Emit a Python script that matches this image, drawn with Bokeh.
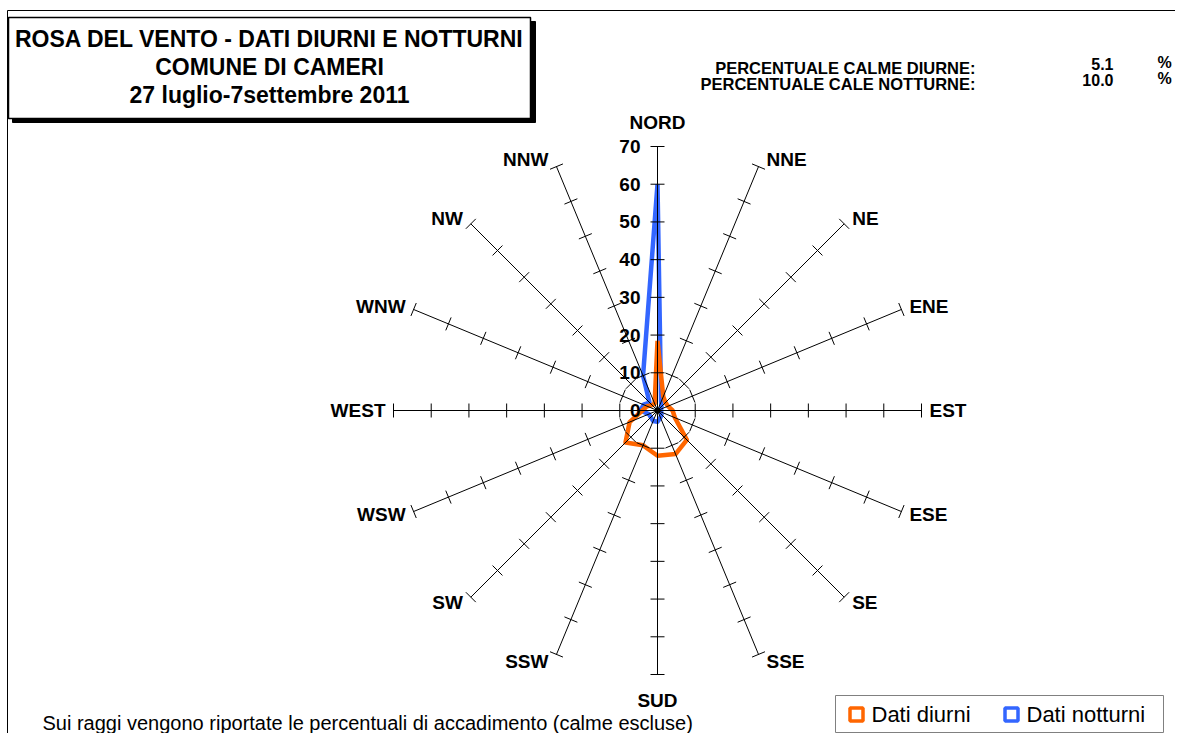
import numpy as np
from bokeh.plotting import figure
from bokeh.models import Range1d
from bokeh.embed import file_html
from bokeh.resources import INLINE
from bokeh.core.properties import value

# ---------------- data ----------------
directions = ["NORD", "NNE", "NE", "ENE", "EST", "ESE", "SE", "SSE",
              "SUD", "SSW", "SW", "WSW", "WEST", "WNW", "NW", "NNW"]
dati_diurni = [18.5, 4, 3, 3, 4, 5, 11, 12.5, 12, 10, 12, 8, 4, 3, 2, 2]
dati_notturni = [60, 2.5, 1.5, 1, 1, 1, 1.5, 2, 3, 3, 2.5, 2.5, 4.5, 4, 3, 10]
radial_ticks = [0, 10, 20, 30, 40, 50, 60, 70]
series_names = ["Dati diurni", "Dati notturni"]
series_colors = ["#FF6600", "#3366FF"]
title_lines = ["ROSA DEL VENTO - DATI DIURNI E NOTTURNI",
               "COMUNE DI CAMERI",
               "27 luglio-7settembre 2011"]
calme_labels = ["PERCENTUALE CALME DIURNE:", "PERCENTUALE CALE NOTTURNE:"]
calme_values = ["5.1", "10.0"]
footnote = "Sui raggi vengono riportate le percentuali di accadimento (calme escluse)"

# ---------------- geometry ----------------
W, H = 1175, 733
K = 264 / 70.0          # pixels per percent unit
CX, CY = 657, 410       # radar centre in picture pixels
RMAX = 70

def X(sx):
    return (sx - CX) / K

def Y(sy):
    return (CY - sy) / K

FONT = value("Liberation Sans")

p = figure(width=W, height=H, output_backend="svg", toolbar_location=None,
           x_range=Range1d(X(0), X(W)), y_range=Range1d(Y(H), Y(0)),
           min_border=0)
p.axis.visible = False
p.grid.visible = False
p.outline_line_color = None
p.background_fill_color = "white"
p.border_fill_color = "white"

# outer chart frame (only top and left edges visible)
p.quad(left=[X(7)], right=[X(1300)], top=[Y(10)], bottom=[Y(900)],
       fill_color=None, line_color="black", line_width=1)

# title box with shadow
p.quad(left=[X(12)], right=[X(535)], top=[Y(21)], bottom=[Y(122)],
       fill_color="black", line_color="black")
p.quad(left=[X(8)], right=[X(530)], top=[Y(17)], bottom=[Y(118)],
       fill_color="white", line_color="black", line_width=1.5)
for i, t in enumerate(title_lines):
    p.text(x=[X(269)], y=[Y(38 + 28 * i)], text=[t], text_font=FONT,
           text_font_style="bold", text_font_size="23px",
           text_align="center", text_baseline="middle", text_color="black")

# calme percentages
for i, (lab, val) in enumerate(zip(calme_labels, calme_values)):
    ly = 67 + 16 * i
    p.text(x=[X(975)], y=[Y(ly)], text=[lab], text_font=FONT,
           text_font_style="bold", text_font_size="16.5px",
           text_align="right", text_baseline="middle")
    p.text(x=[X(1113)], y=[Y(ly - 4)], text=[val], text_font=FONT,
           text_font_style="bold", text_font_size="16px",
           text_align="right", text_baseline="middle")
    p.text(x=[X(1157)], y=[Y(ly - 5)], text=["%"], text_font=FONT,
           text_font_style="bold", text_font_size="16px",
           text_align="left", text_baseline="middle")

# ---------------- radar series ----------------
ang = np.deg2rad(np.arange(len(directions)) * 22.5)
sin_a, cos_a = np.sin(ang), np.cos(ang)

for vals, col in zip([dati_notturni, dati_diurni], [series_colors[1], series_colors[0]]):
    v = np.array(vals, dtype=float)
    xs = np.append(v * sin_a, v[0] * sin_a[0])
    ys = np.append(v * cos_a, v[0] * cos_a[0])
    p.line(xs, ys, line_color=col, line_width=4.5, line_join="round")

# spokes
p.segment(x0=np.zeros(len(ang)), y0=np.zeros(len(ang)),
          x1=RMAX * sin_a, y1=RMAX * cos_a, line_color="black", line_width=1)
# ticks
half = 7 / K
tx0, ty0, tx1, ty1 = [], [], [], []
for t in radial_ticks[1:]:
    for s, c in zip(sin_a, cos_a):
        px, py = t * s, t * c
        tx0.append(px - half * c)
        ty0.append(py + half * s)
        tx1.append(px + half * c)
        ty1.append(py - half * s)
p.segment(x0=tx0, y0=ty0, x1=tx1, y1=ty1, line_color="black", line_width=1)
p.scatter(x=[0], y=[0], size=5, color="black")

# radial value labels on the north spoke
p.text(x=[X(640)] * len(radial_ticks), y=radial_ticks,
       text=[str(t) for t in radial_ticks], text_font=FONT,
       text_font_style="bold", text_font_size="19px",
       text_align="right", text_baseline="middle")

# direction labels
for name, s, c in zip(directions, sin_a, cos_a):
    ex, ey = RMAX * s, RMAX * c
    if abs(s) < 1e-6:
        lx = ex
        ly = ey + (24 / K if c > 0 else -26 / K)
        align = "center"
    else:
        lx = ex + (8 / K if s > 0 else -8 / K)
        ly = ey + 8 * c / K
        align = "left" if s > 0 else "right"
    p.text(x=[lx], y=[ly], text=[name], text_font=FONT, text_font_style="bold",
           text_font_size="19px", text_align=align, text_baseline="middle")

# footnote
p.text(x=[X(42)], y=[Y(722)], text=[footnote], text_font=FONT,
       text_font_size="20px", text_align="left", text_baseline="middle")

# legend
p.quad(left=[X(835)], right=[X(1163)], top=[Y(695)], bottom=[Y(732)],
       fill_color="white", line_color="#808080", line_width=1)
leg_x = [856, 1011]
for name, col, lx in zip(series_names, series_colors, leg_x):
    p.scatter(x=[X(lx)], y=[Y(714)], marker="square", size=13,
              fill_color="white", line_color=col, line_width=3.5)
    p.text(x=[X(lx + 15)], y=[Y(714)], text=[name], text_font=FONT,
           text_font_size="22px", text_align="left", text_baseline="middle")

open("out.html", "w").write(file_html(p, INLINE))
